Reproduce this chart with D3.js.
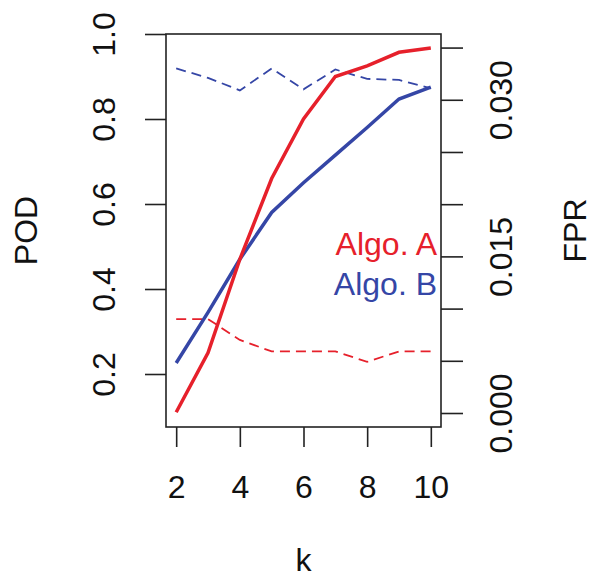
<!DOCTYPE html>
<html>
<head>
<meta charset="utf-8">
<script src="https://cdn.jsdelivr.net/npm/d3@7"></script>
<style>
  body { margin: 0; background: #fff; }
  text { font-family: "Liberation Sans", Arial, sans-serif; }
</style>
</head>
<body>
<svg width="595" height="577"></svg>
<script>

var kValues = [2, 3, 4, 5, 6, 7, 8, 9, 10]
var podA = [0.11, 0.25, 0.47, 0.66, 0.80, 0.90, 0.925, 0.957, 0.967]
var podB = [0.226, 0.345, 0.47, 0.58, 0.65, 0.715, 0.78, 0.847, 0.875]
var fprA = [0.0090, 0.0090, 0.0070, 0.0059, 0.0059, 0.0059, 0.0049, 0.0059, 0.0059]
var fprB = [0.0330, 0.0321, 0.0309, 0.0330, 0.0310, 0.0329, 0.0320, 0.0319, 0.0311]

var kTicks = [2, 4, 6, 8, 10]
var podTicks = [0.2, 0.4, 0.6, 0.8, 1.0]
var fprTicks = [0, 0.005, 0.010, 0.015, 0.020, 0.025, 0.030, 0.035]
var fprLabels = [0, 0.015, 0.030]
var legendNames = ["Algo. A", "Algo. B"]

var red = "#e6202b"
var blue = "#3546a6"

var box = { left: 166, right: 441, top: 34, bottom: 427 }

var svg = d3.select("svg")

var xScale = d3.scaleLinear()
  .domain([1.68, 10.32])
  .range([box.left, box.right])

var yPod = d3.scaleLinear()
  .domain([0.0753, 1.0])
  .range([box.bottom, box.top])

var yFpr = d3.scaleLinear()
  .domain([-0.00134, 0.0363])
  .range([box.bottom, box.top])

var fontSize = 32

// lines
var podLine = function(vals) {
  return d3.line()
    .x(function(d, i) { return xScale(kValues[i]) })
    .y(function(d) { return yPod(d) })(vals)
}
var fprLine = function(vals) {
  return d3.line()
    .x(function(d, i) { return xScale(kValues[i]) })
    .y(function(d) { return yFpr(d) })(vals)
}

svg.append("path").attr("d", fprLine(fprB))
  .attr("fill", "none").attr("stroke", blue).attr("stroke-width", 1.8)
  .attr("stroke-dasharray", "10,6")
svg.append("path").attr("d", fprLine(fprA))
  .attr("fill", "none").attr("stroke", red).attr("stroke-width", 1.8)
  .attr("stroke-dasharray", "10,6")
svg.append("path").attr("d", podLine(podB))
  .attr("fill", "none").attr("stroke", blue).attr("stroke-width", 3.5)
svg.append("path").attr("d", podLine(podA))
  .attr("fill", "none").attr("stroke", red).attr("stroke-width", 3.5)

// box
svg.append("rect")
  .attr("x", box.left).attr("y", box.top)
  .attr("width", box.right - box.left).attr("height", box.bottom - box.top)
  .attr("fill", "none").attr("stroke", "#222").attr("stroke-width", 1.6)

var styleAxis = function(g) {
  g.select(".domain").remove()
  g.selectAll("line").attr("stroke", "#222").attr("stroke-width", 1.6)
  g.selectAll("text")
    .attr("font-size", fontSize)
    .attr("font-family", "Liberation Sans, Arial, sans-serif")
    .attr("fill", "#111")
}

// bottom axis
var xAxis = svg.append("g")
  .attr("transform", "translate(0," + box.bottom + ")")
  .call(d3.axisBottom(xScale).tickValues(kTicks).tickSize(20).tickSizeOuter(0))
styleAxis(xAxis)
xAxis.selectAll("text").attr("y", 71).attr("dy", null)

// left axis
var yAxis = svg.append("g")
  .attr("transform", "translate(" + box.left + ",0)")
  .call(d3.axisLeft(yPod).tickValues(podTicks).tickSize(21)
    .tickFormat(d3.format(".1f")))
styleAxis(yAxis)
yAxis.selectAll("text")
  .attr("x", null).attr("dy", null)
  .attr("text-anchor", "middle")
  .attr("transform", "translate(-51,0) rotate(-90)")

// right axis
var y2Axis = svg.append("g")
  .attr("transform", "translate(" + box.right + ",0)")
  .call(d3.axisRight(yFpr).tickValues(fprTicks).tickSize(22)
    .tickFormat(function(d) {
      return fprLabels.some(function(l) { return Math.abs(l - d) < 1e-9 }) ? d3.format(".3f")(d) : ""
    }))
styleAxis(y2Axis)
y2Axis.selectAll("text")
  .attr("x", null).attr("dy", null)
  .attr("text-anchor", "middle")
  .attr("transform", "translate(71,0) rotate(-90)")

// axis titles
svg.append("text").text("k")
  .attr("x", xScale(6)).attr("y", 571)
  .attr("text-anchor", "middle").attr("font-size", fontSize).attr("fill", "#111")

svg.append("text").text("POD")
  .attr("transform", "translate(37," + (box.top + box.bottom) / 2 + ") rotate(-90)")
  .attr("text-anchor", "middle").attr("font-size", fontSize).attr("fill", "#111")

svg.append("text").text("FPR")
  .attr("transform", "translate(586," + (box.top + box.bottom) / 2 + ") rotate(-90)")
  .attr("text-anchor", "middle").attr("font-size", fontSize).attr("fill", "#111")

// legend
svg.selectAll(".legend")
  .data(legendNames)
  .enter()
  .append("text")
  .attr("class", "legend")
  .text(function(d) { return d })
  .attr("x", 437)
  .attr("y", function(d, i) { return 255 + i * 40 })
  .attr("text-anchor", "end")
  .attr("font-size", fontSize)
  .attr("fill", function(d, i) { return i == 0 ? red : blue })

</script>
</body>
</html>
